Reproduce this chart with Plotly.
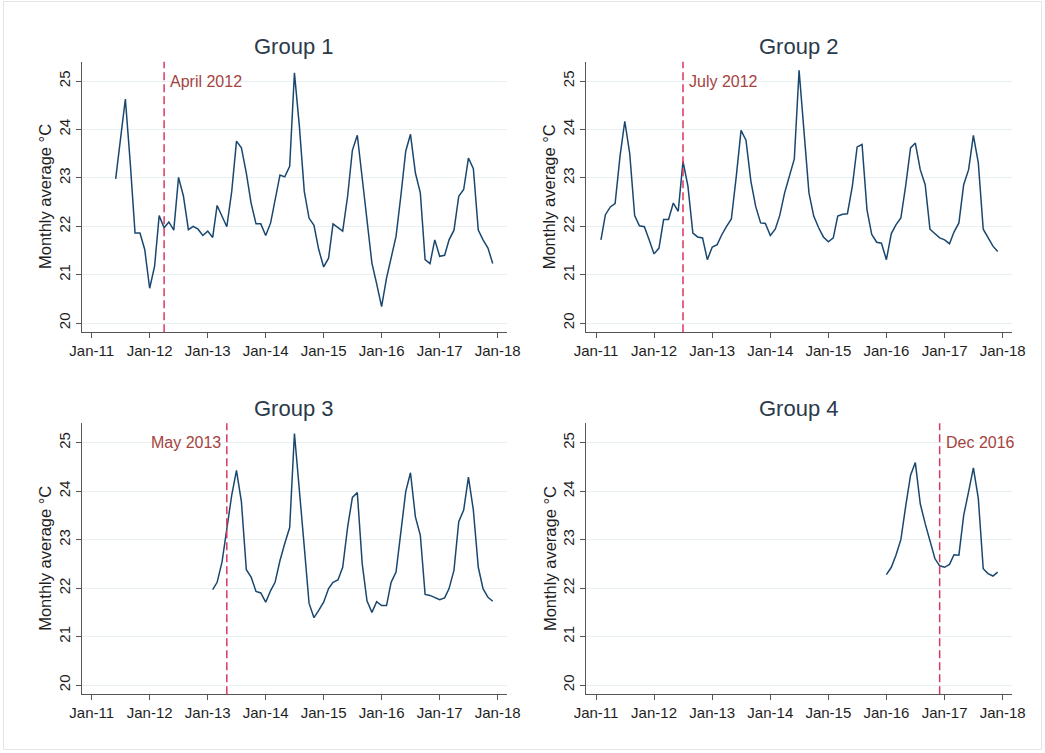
import pandas as pd
import plotly.graph_objects as go

# Monthly average temperature (°C) per group, one value per month
group1_start = "2011-06-01"
group1_values = [
    22.98, 23.86, 24.63, 23.30, 21.86, 21.86, 21.52, 20.72, 21.17, 22.22,
    21.97, 22.09, 21.92, 23.01, 22.62, 21.93, 22.00, 21.94, 21.81, 21.90,
    21.77, 22.43, 22.20, 21.99, 22.72, 23.76, 23.62, 23.10, 22.48, 22.05,
    22.05, 21.81, 22.07, 22.55, 23.06, 23.02, 23.24, 25.17,
    24.07, 22.72, 22.17, 22.02, 21.52, 21.16, 21.34, 22.05, 21.98, 21.90,
    22.62, 23.57, 23.88, 22.97, 22.14, 21.24, 20.81, 20.34, 20.93, 21.34,
    21.79, 22.62, 23.55, 23.90, 23.10, 22.69, 21.31, 21.23, 21.72, 21.38,
    21.40, 21.72, 21.92, 22.62, 22.76, 23.41, 23.19, 21.92, 21.72, 21.55,
    21.23,
]

group2_start = "2011-02-01"
group2_values = [
    21.72, 22.24, 22.40, 22.47, 23.45, 24.17, 23.50, 22.22, 22.01, 21.99,
    21.72, 21.43, 21.55, 22.14, 22.14, 22.48, 22.31, 23.34, 22.83, 21.86,
    21.78, 21.76, 21.31, 21.57, 21.62, 21.82, 22.00, 22.15, 23.03, 23.98,
    23.78, 22.93, 22.41, 22.07, 22.06, 21.81, 21.94, 22.22, 22.69, 23.05,
    23.39, 25.22,
    23.86, 22.69, 22.21, 21.97, 21.78, 21.68, 21.76, 22.21, 22.25, 22.26,
    22.83, 23.64, 23.69, 22.34, 21.83, 21.67, 21.65, 21.31, 21.85, 22.03,
    22.17, 22.83, 23.62, 23.72, 23.17, 22.86, 21.94, 21.85, 21.76, 21.72,
    21.64, 21.88, 22.07, 22.86, 23.17, 23.88, 23.31, 21.94, 21.76, 21.59,
    21.48,
]

group3_start = "2013-02-01"
group3_values = [
    21.97, 22.12, 22.54, 23.19, 23.92, 24.43, 23.78, 22.38, 22.23, 21.93,
    21.90, 21.71, 21.95, 22.12, 22.57, 22.92, 23.25, 25.19,
    24.09, 22.85, 21.69, 21.39, 21.54, 21.71, 21.99, 22.12, 22.17, 22.43,
    23.26, 23.87, 23.97, 22.50, 21.74, 21.50, 21.72, 21.64, 21.64, 22.12,
    22.33, 23.12, 23.99, 24.38, 23.47, 23.09, 21.87, 21.85, 21.81, 21.76,
    21.80, 21.99, 22.37, 23.37, 23.61, 24.29, 23.61, 22.43, 21.99, 21.81,
    21.73,
]

group4_start = "2016-01-01"
group4_values = [
    22.28, 22.43, 22.68, 23.00, 23.68, 24.33, 24.59, 23.74, 23.33, 22.95,
    22.61, 22.46, 22.43, 22.49, 22.69, 22.68, 23.50, 23.99, 24.48, 23.85,
    22.40, 22.30, 22.25, 22.33,
]

group_titles = ["Group 1", "Group 2", "Group 3", "Group 4"]
event_dates = ["2012-04-01", "2012-07-01", "2013-05-01", "2016-12-01"]
event_labels = ["April 2012", "July 2012", "May 2013", "Dec 2016"]
event_label_side = ["right", "right", "left", "right"]

tick_dates = [f"{y}-01-01" for y in range(2011, 2019)]
tick_labels = [f"Jan-{y % 100:02d}" for y in range(2011, 2019)]
y_ticks = [20, 21, 22, 23, 24, 25]

series = [
    (group1_start, group1_values),
    (group2_start, group2_values),
    (group3_start, group3_values),
    (group4_start, group4_values),
]

W, H = 1045, 753
FONT = "Arial, Liberation Sans, sans-serif"
LINE_COLOR = "#1a476f"
EVENT_COLOR = "#d8395f"
EVENT_TEXT = "#a5433f"
AXIS_COLOR = "#555555"
GRID_COLOR = "#e8f0f2"

# Plot-area boxes in pixels: (left, right, top, bottom)
boxes = [
    (81.7, 506.7, 61.7, 332.3),
    (586.0, 1011.7, 61.7, 332.3),
    (81.7, 506.7, 423.3, 694.3),
    (586.0, 1011.7, 423.3, 694.3),
]

fig = go.Figure()
layout = dict(
    width=W, height=H, autosize=False,
    margin=dict(l=0, r=0, t=0, b=0, pad=0, autoexpand=False),
    paper_bgcolor="white", plot_bgcolor="white",
    showlegend=False,
    font=dict(family=FONT, color="#222222"),
    annotations=[], shapes=[],
)

for i, ((start, values), box) in enumerate(zip(series, boxes)):
    n = i + 1
    xa = "x" if n == 1 else f"x{n}"
    ya = "y" if n == 1 else f"y{n}"
    left, right, top, bottom = box
    dates = pd.date_range(start=start, periods=len(values), freq="MS")
    fig.add_trace(go.Scatter(
        x=dates, y=values, mode="lines",
        line=dict(color=LINE_COLOR, width=1.5),
        xaxis=xa, yaxis=ya, hoverinfo="x+y",
    ))

    layout[f"xaxis{'' if n == 1 else n}"] = dict(
        domain=[left / W, right / W], anchor=ya,
        type="date", range=["2010-10-30", "2018-02-27"],
        tickmode="array", tickvals=tick_dates, ticktext=tick_labels,
        ticks="outside", ticklen=5, tickcolor=AXIS_COLOR,
        showline=True, linecolor=AXIS_COLOR, linewidth=1,
        showgrid=False, zeroline=False, automargin=False,
        tickfont=dict(size=15, color="#1e1e1e"),
    )
    layout[f"yaxis{'' if n == 1 else n}"] = dict(
        domain=[1 - bottom / H, 1 - top / H], anchor=xa,
        range=[19.81, 25.4],
        tickmode="array", tickvals=y_ticks,
        tickangle=-90,
        ticks="outside", ticklen=5, tickcolor=AXIS_COLOR,
        showline=True, linecolor=AXIS_COLOR, linewidth=1,
        showgrid=True, gridcolor=GRID_COLOR, gridwidth=1,
        zeroline=False, automargin=False,
        tickfont=dict(size=15, color="#1e1e1e"),
    )

    # Panel title
    layout["annotations"].append(dict(
        text=group_titles[i], xref="paper", yref="paper",
        x=(left + right) / 2 / W, y=1 - (top - 15) / H,
        xanchor="center", yanchor="middle", showarrow=False,
        font=dict(size=22, color="#2b3a4a", family=FONT),
    ))
    # Y-axis title
    layout["annotations"].append(dict(
        text="Monthly average °C", xref="paper", yref="paper",
        x=45 / W if i % 2 == 0 else (45 + 504.3) / W,
        y=1 - (top + bottom) / 2 / H,
        xanchor="center", yanchor="middle", textangle=-90, showarrow=False,
        font=dict(size=16.5, color="#1e1e1e", family=FONT),
    ))
    # Event marker
    layout["shapes"].append(dict(
        type="line", xref=xa, yref=f"{ya} domain",
        x0=event_dates[i], x1=event_dates[i], y0=0, y1=1,
        line=dict(color=EVENT_COLOR, width=1.5, dash="8px,4px"),
    ))
    right_side = event_label_side[i] == "right"
    layout["annotations"].append(dict(
        text=event_labels[i], xref=xa, yref=ya,
        x=event_dates[i], y=25,
        xanchor="left" if right_side else "right", yanchor="middle",
        xshift=4 if right_side else -4, showarrow=False,
        font=dict(size=16, color=EVENT_TEXT, family=FONT),
    ))

# Thin outer frame
layout["shapes"].append(dict(
    type="rect", xref="paper", yref="paper",
    x0=3.5 / W, x1=1041.5 / W, y0=1 - 749.5 / H, y1=1 - 1.5 / H,
    line=dict(color="#e4e4e4", width=1),
))

fig.update_layout(**layout)
fig.write_html("out.html")
